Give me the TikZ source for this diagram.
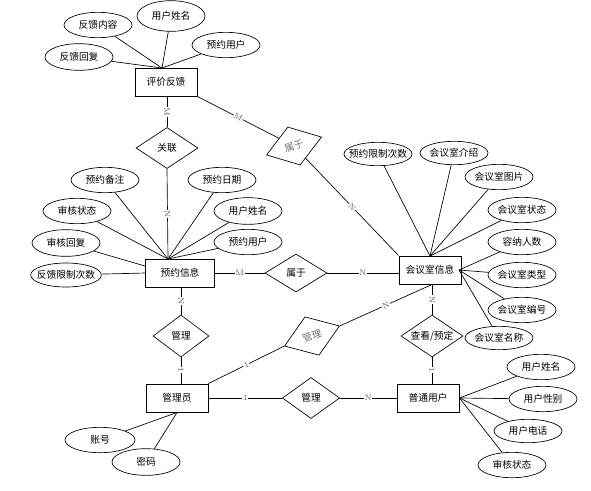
\documentclass[tikz,border=0pt]{standalone}
\usepackage{fontspec}
\newfontfamily\cjk{Noto Sans CJK SC}
\usetikzlibrary{shapes.geometric}
\newcommand\zt[1]{\makebox[0pt]{#1}}
\begin{document}
\begin{tikzpicture}[x=0.75pt,y=-0.75pt,
  every node/.style={font=\cjk\fontsize{7.3}{8}\selectfont},
  ent/.style={draw, line width=0.75pt, minimum width=46.5pt, minimum height=21pt, inner sep=0pt, fill=white},
  attr/.style={draw, ellipse, line width=0.5pt, minimum width=51pt, minimum height=19pt, inner sep=0pt},
  rel/.style={draw, diamond, line width=0.5pt, minimum width=46.5pt, minimum height=30.75pt, inner sep=0pt},
  slant/.style={text=black!55},
  conn/.style={line width=0.5pt},
  card/.style={font=\fontsize{6}{6}\selectfont, fill=white, inner sep=0.4pt, text=black!65, sloped}
]
\useasboundingbox (0,0) rectangle (591,490);

% entities
\node[ent] (pj) at (166,82) {评价反馈};
\node[ent, minimum width=51.75pt] (yy) at (180,273) {预约信息};
\node[ent] (hy) at (430,270) {会议室信息};
\node[ent] (gl) at (177,398) {管理员};
\node[ent] (pt) at (428,398) {普通用户};

% relationships
\node[rel] (r1) at (167,148) {\zt{关联}};
\node[rel, slant, rotate=18, minimum width=43.5pt, minimum height=30pt] (r2) at (294,146) {\zt{属于}};
\node[rel, minimum height=28.5pt] (r3) at (296,273) {\zt{属于}};
\node[rel, minimum width=42pt, minimum height=31.5pt] (r4) at (181,336) {\zt{管理}};
\node[rel, slant, rotate=20, minimum width=44pt, minimum height=30.75pt] (r5) at (312,336) {\zt{管理}};
\node[rel, minimum width=43pt] (r6) at (311,398) {\zt{管理}};
\node[rel, minimum height=31.5pt] (r7) at (432,336) {\zt{查看/预定}};

% attributes of 评价反馈
\node[attr] (a1) at (98,25) {\zt{反馈内容}};
\node[attr, minimum height=23pt] (a2) at (171,16) {\zt{用户姓名}};
\node[attr] (a3) at (226,45) {\zt{预约用户}};
\node[attr, minimum height=20pt] (a4) at (79,57) {\zt{反馈回复}};

% attributes of 预约信息
\node[attr] (b1) at (105,180) {\zt{预约备注}};
\node[attr] (b2) at (77,211) {\zt{审核状态}};
\node[attr, minimum height=20pt] (b3) at (66,243) {\zt{审核回复}};
\node[attr, minimum width=53pt, minimum height=18pt] (b4) at (66,275) {\zt{反馈限制次数}};
\node[attr] (b5) at (222,180) {\zt{预约日期}};
\node[attr, minimum height=20pt] (b6) at (248,211) {\zt{用户姓名}};
\node[attr] (b7) at (248,242) {\zt{预约用户}};

% attributes of 会议室信息
\node[attr, minimum height=17.5pt] (c1) at (378,154) {\zt{预约限制次数}};
\node[attr, minimum height=17.5pt] (c2) at (454,153) {\zt{会议室介绍}};
\node[attr] (c3) at (499,177) {\zt{会议室图片}};
\node[attr] (c4) at (522,210) {\zt{会议室状态}};
\node[attr] (c5) at (522,242) {\zt{容纳人数}};
\node[attr] (c6) at (522,275) {\zt{会议室类型}};
\node[attr] (c7) at (522,310) {\zt{会议室编号}};
\node[attr, minimum height=17.5pt] (c8) at (499,338) {\zt{会议室名称}};

% attributes of 普通用户
\node[attr] (d1) at (541,367) {\zt{用户姓名}};
\node[attr] (d2) at (543,399) {\zt{用户性别}};
\node[attr, minimum height=17.5pt] (d3) at (528,431) {\zt{用户电话}};
\node[attr] (d4) at (512,465) {\zt{审核状态}};

% attributes of 管理员
\node[attr, minimum width=52.5pt] (e1) at (100,440) {\zt{账号}};
\node[attr, minimum height=20pt] (e2) at (146,462) {\zt{密码}};

% connection points
\coordinate (pjT) at (162,68);
\coordinate (yyT) at (168,259);
\coordinate (yyL1) at (145,266);
\coordinate (yyL2) at (145,273);
\coordinate (hyT) at (430,256);
\coordinate (hyR) at (459,270);

% attribute connectors
\foreach \n in {a1,a2,a3,a4} \draw[conn] (\n) -- (pjT);
\foreach \n in {b1,b2,b5,b6,b7} \draw[conn] (\n) -- (yyT);
\draw[conn] (b3) -- (yyL1);
\draw[conn] (b4) -- (yyL2);
\foreach \n in {c1,c2,c3,c4} \draw[conn] (\n) -- (hyT);
\foreach \n in {c5,c6,c7,c8} \draw[conn] (\n) -- (hyR);
\foreach \n in {d1,d2,d3,d4} \draw[conn] (\n) -- (pt.east);
\foreach \n in {e1,e2} \draw[conn] (\n) -- (gl.south);

% relationship connectors
\draw[conn] (r1.north |- pj.south) -- node[card]{M} (r1.north);
\draw[conn] (r1.south) -- node[card]{N} (yyT);
\draw[conn] (r4.north |- yy.south) -- node[card]{N} (r4.north);
\draw[conn] (r4.south) -- node[card]{1} (r4.south |- gl.north);
\draw[conn] (yy.east |- r3.west) -- node[card]{M} (r3.west);
\draw[conn] (r3.east) -- node[card]{N} (r3.east -| hy.west);
\draw[conn] (pj.south east) -- node[card]{M} (r2);
\draw[conn] (r2) -- node[card]{N} (hy.north west);
\draw[conn] (gl.north east) -- node[card]{1} (r5.west);
\draw[conn] (r5.east) -- node[card]{N} (r7.north |- hy.south);
\draw[conn] (r7.north |- hy.south) -- node[card]{N} (r7.north);
\draw[conn] (r7.south) -- node[card]{1} (r7.south |- pt.north);
\draw[conn] (gl.east) -- node[card]{1} (r6.west);
\draw[conn] (r6.east) -- node[card]{N} (pt.west);
\end{tikzpicture}
\end{document}
